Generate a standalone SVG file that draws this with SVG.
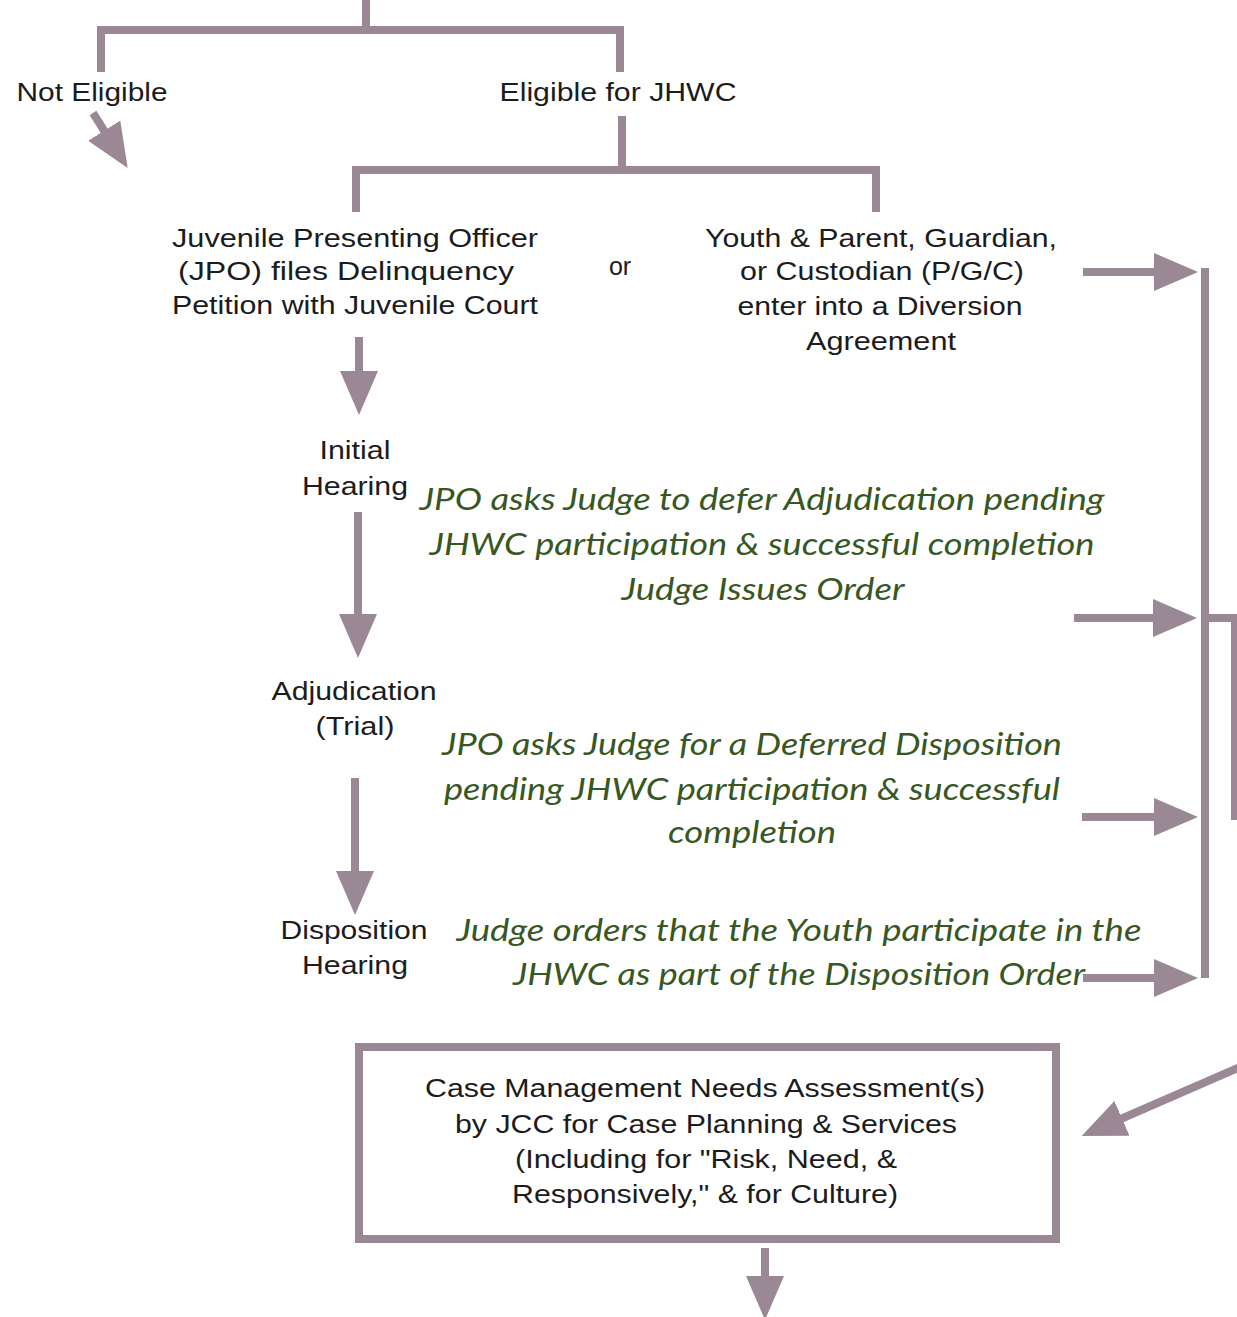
<svg xmlns="http://www.w3.org/2000/svg" width="1237" height="1317" viewBox="0 0 1237 1317">
  <defs>
    <style>
      .ln { stroke: #9a8894; stroke-width: 8; fill: none; stroke-linecap: butt; stroke-linejoin: miter; }
      .lbl { font-family: "Liberation Sans", Arial, sans-serif; font-size: 25px; fill: #1c1c1c; text-anchor: middle; }
      .note { font-family: Lato, "Open Sans", sans-serif; font-style: italic; font-size: 31px; fill: #385723; text-anchor: middle; }
      .box { fill: #ffffff; stroke: #9a8894; stroke-width: 8; }
    </style>
    <marker id="head" markerUnits="userSpaceOnUse" markerWidth="44" markerHeight="40" refX="24" refY="20" orient="auto">
      <path d="M0,1 L44,20 L0,39 z" fill="#9a8894"/>
    </marker>
  </defs>

  <!-- connectors -->
  <g id="connectors">
    <!-- eligibility split -->
    <polyline class="ln" points="101,72 101,30 620,30 620,72"/>
    <line class="ln" x1="366" y1="0" x2="366" y2="30"/>
    <line class="ln" x1="93" y1="113" x2="117" y2="151" marker-end="url(#head)"/>
    <!-- eligible: petition or diversion -->
    <line class="ln" x1="622" y1="116" x2="622" y2="170"/>
    <polyline class="ln" points="356,212 356,170 876,170 876,212"/>
    <!-- court track -->
    <line class="ln" x1="359" y1="337" x2="359" y2="395" marker-end="url(#head)"/>
    <line class="ln" x1="358" y1="512" x2="358" y2="638" marker-end="url(#head)"/>
    <line class="ln" x1="355" y1="778" x2="355" y2="895" marker-end="url(#head)"/>
    <!-- routes into JHWC -->
    <line class="ln" x1="1083" y1="272" x2="1178" y2="272" marker-end="url(#head)"/>
    <line class="ln" x1="1074" y1="618" x2="1177" y2="618" marker-end="url(#head)"/>
    <line class="ln" x1="1082" y1="817" x2="1178" y2="817" marker-end="url(#head)"/>
    <line class="ln" x1="1083" y1="978" x2="1178" y2="978" marker-end="url(#head)"/>
    <polyline class="ln" points="1205,268 1205,978"/>
    <polyline class="ln" points="1205,618 1235,618 1235,820"/>
    <line class="ln" x1="1240" y1="1067" x2="1100" y2="1128" marker-end="url(#head)"/>
    <line class="ln" x1="765" y1="1248" x2="765" y2="1300" marker-end="url(#head)"/>
  </g>

  <g id="not-eligible">
    <text class="lbl" x="92" y="101" textLength="151" lengthAdjust="spacingAndGlyphs">Not Eligible</text>
  </g>
  <g id="eligible">
    <text class="lbl" x="618" y="101" textLength="237" lengthAdjust="spacingAndGlyphs">Eligible for JHWC</text>
  </g>
  <g id="petition">
    <text class="lbl" x="355" y="247" textLength="366" lengthAdjust="spacingAndGlyphs">Juvenile Presenting Officer</text>
    <text class="lbl" x="346" y="280" textLength="336" lengthAdjust="spacingAndGlyphs">(JPO) files Delinquency</text>
    <text class="lbl" x="355" y="314" textLength="366" lengthAdjust="spacingAndGlyphs">Petition with Juvenile Court</text>
  </g>
  <g id="or">
    <text class="lbl" x="620" y="275">or</text>
  </g>
  <g id="diversion">
    <text class="lbl" x="881" y="247" textLength="352" lengthAdjust="spacingAndGlyphs">Youth &amp; Parent, Guardian,</text>
    <text class="lbl" x="882" y="280" textLength="284" lengthAdjust="spacingAndGlyphs">or Custodian (P/G/C)</text>
    <text class="lbl" x="880" y="315" textLength="285" lengthAdjust="spacingAndGlyphs">enter into a Diversion</text>
    <text class="lbl" x="881" y="350" textLength="150" lengthAdjust="spacingAndGlyphs">Agreement</text>
  </g>
  <g id="initial-hearing">
    <text class="lbl" x="355" y="459" textLength="71" lengthAdjust="spacingAndGlyphs">Initial</text>
    <text class="lbl" x="355" y="495" textLength="106" lengthAdjust="spacingAndGlyphs">Hearing</text>
  </g>
  <g id="adjudication">
    <text class="lbl" x="354" y="700" textLength="165" lengthAdjust="spacingAndGlyphs">Adjudication</text>
    <text class="lbl" x="355" y="735" textLength="79" lengthAdjust="spacingAndGlyphs">(Trial)</text>
  </g>
  <g id="disposition">
    <text class="lbl" x="354" y="939" textLength="147" lengthAdjust="spacingAndGlyphs">Disposition</text>
    <text class="lbl" x="355" y="974" textLength="106" lengthAdjust="spacingAndGlyphs">Hearing</text>
  </g>

  <g id="defer-adjudication">
    <text class="note" x="762" y="510" textLength="685" lengthAdjust="spacingAndGlyphs">JPO asks Judge to defer Adjudication pending</text>
    <text class="note" x="762" y="555" textLength="665" lengthAdjust="spacingAndGlyphs">JHWC participation &amp; successful completion</text>
    <text class="note" x="763" y="600" textLength="283" lengthAdjust="spacingAndGlyphs">Judge Issues Order</text>
  </g>
  <g id="deferred-disposition">
    <text class="note" x="752" y="755" textLength="620" lengthAdjust="spacingAndGlyphs">JPO asks Judge for a Deferred Disposition</text>
    <text class="note" x="752" y="800" textLength="616" lengthAdjust="spacingAndGlyphs">pending JHWC participation &amp; successful</text>
    <text class="note" x="752" y="843" textLength="168" lengthAdjust="spacingAndGlyphs">completion</text>
  </g>
  <g id="disposition-order">
    <text class="note" x="799" y="941" textLength="685" lengthAdjust="spacingAndGlyphs">Judge orders that the Youth participate in the</text>
    <text class="note" x="799" y="985" textLength="572" lengthAdjust="spacingAndGlyphs">JHWC as part of the Disposition Order</text>
  </g>

  <g id="needs-assessment">
    <rect class="box" x="359" y="1047" width="697" height="192"/>
    <text class="lbl" x="705" y="1097" textLength="560" lengthAdjust="spacingAndGlyphs">Case Management Needs Assessment(s)</text>
    <text class="lbl" x="706" y="1133" textLength="502" lengthAdjust="spacingAndGlyphs">by JCC for Case Planning &amp; Services</text>
    <text class="lbl" x="706" y="1168" textLength="382" lengthAdjust="spacingAndGlyphs">(Including for "Risk, Need, &amp;</text>
    <text class="lbl" x="705" y="1203" textLength="386" lengthAdjust="spacingAndGlyphs">Responsively," &amp; for Culture)</text>
  </g>
</svg>
